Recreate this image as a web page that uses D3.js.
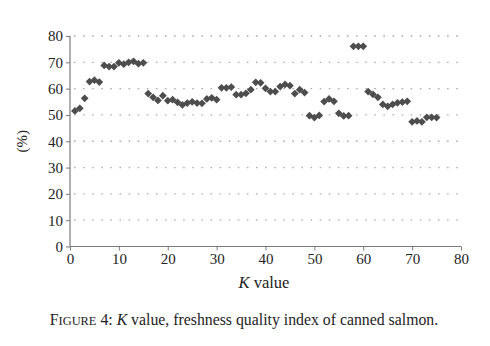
<!DOCTYPE html>
<html>
<head>
<meta charset="utf-8">
<script src="https://cdn.jsdelivr.net/npm/d3@7"></script>
<style>
  html, body { margin: 0; padding: 0; background: #fff; }
  svg { display: block; }
  text { font-family: "Liberation Serif", "DejaVu Serif", serif; fill: #222; }
</style>
</head>
<body>
<svg id="chart" width="490" height="346"></svg>
<script>
const kIndex = [1,2,3,4,5,6,7,8,9,10,11,12,13,14,15,16,17,18,19,20,21,22,23,24,25,
  26,27,28,29,30,31,32,33,34,35,36,37,38,39,40,41,42,43,44,45,46,47,48,49,50,
  51,52,53,54,55,56,57,58,59,60,61,62,63,64,65,66,67,68,69,70,71,72,73,74,75];
const percentValues = [51.5,52.5,56.3,62.7,63.2,62.5,68.8,68.4,68.4,69.8,69.3,70.0,70.4,69.5,69.8,
  58.1,56.7,55.5,57.3,55.4,55.8,54.8,53.8,54.5,55.0,54.5,54.4,56.1,56.5,55.8,
  60.3,60.3,60.6,57.7,57.7,58.2,59.6,62.4,62.2,60.1,58.9,58.9,60.8,61.6,61.1,
  58.1,59.6,58.5,49.7,49.0,49.8,55.1,56.1,55.2,50.6,49.6,49.7,76.1,76.1,76.1,
  58.9,57.8,56.7,54.0,53.3,54.0,54.6,54.9,55.2,47.4,47.7,47.4,49.1,49.1,49.0];
const xTicks = [0,10,20,30,40,50,60,70,80];
const yTicks = [0,10,20,30,40,50,60,70,80];
const gridValues = [10,20,30,40,50,60,70,80];

const svg = d3.select("#chart");
const x = d3.scaleLinear().domain([0, 80]).range([70, 461]);
const y = d3.scaleLinear().domain([0, 80]).range([246.5, 36]);

// gridlines
svg.append("g").selectAll("line").data(gridValues).join("line")
  .attr("x1", x(0) + 4).attr("x2", x(80))
  .attr("y1", d => y(d)).attr("y2", d => y(d))
  .attr("stroke", "#a8a8a8").attr("stroke-width", 1.3)
  .attr("stroke-dasharray", "1.5,7.6");

// axes
const axisColor = "#7a7a7a";
const xAxis = svg.append("g").attr("transform", `translate(0,${y(0)})`)
  .call(d3.axisBottom(x).tickValues(xTicks).tickSize(4).tickPadding(3));
const yAxis = svg.append("g").attr("transform", `translate(${x(0)},0)`)
  .call(d3.axisLeft(y).tickValues(yTicks).tickSize(4).tickPadding(3));
[xAxis, yAxis].forEach(g => {
  g.select(".domain").attr("stroke", axisColor).attr("stroke-width", 1.2);
  g.selectAll(".tick line").attr("stroke", axisColor).attr("stroke-width", 1);
  g.selectAll(".tick text").attr("font-family", "Liberation Serif, serif")
    .attr("font-size", 15).attr("fill", "#222");
});
xAxis.select(".domain").attr("d", `M${x(0)},0H${x(80)}`);
yAxis.select(".domain").attr("d", `M0,${y(80)}V${y(0)}`);

// points: square diamonds
const diamond = d3.symbol().type(d3.symbolSquare).size(30);
svg.append("g").selectAll("path").data(kIndex).join("path")
  .attr("transform", (d, i) => `translate(${x(d)},${y(percentValues[i])}) rotate(45)`)
  .attr("d", diamond)
  .attr("fill", "#4d4d4d");

// labels
svg.append("text")
  .attr("transform", `translate(27,${(y(0) + y(80)) / 2}) rotate(-90)`)
  .attr("text-anchor", "middle").attr("font-size", 15).text("(%)");

const xl = svg.append("text").attr("x", 264).attr("y", 288)
  .attr("text-anchor", "middle").attr("font-size", 16.5);
xl.append("tspan").attr("font-style", "italic").text("K");
xl.append("tspan").text(" value");

const cap = svg.append("text").attr("x", 244).attr("y", 325)
  .attr("text-anchor", "middle").attr("font-size", 15.8);
cap.append("tspan").text("F");
cap.append("tspan").attr("font-size", 12.4).text("IGURE");
cap.append("tspan").text(" 4: ");
cap.append("tspan").attr("font-style", "italic").text("K");
cap.append("tspan").text(" value, freshness quality index of canned salmon.");
</script>
</body>
</html>
